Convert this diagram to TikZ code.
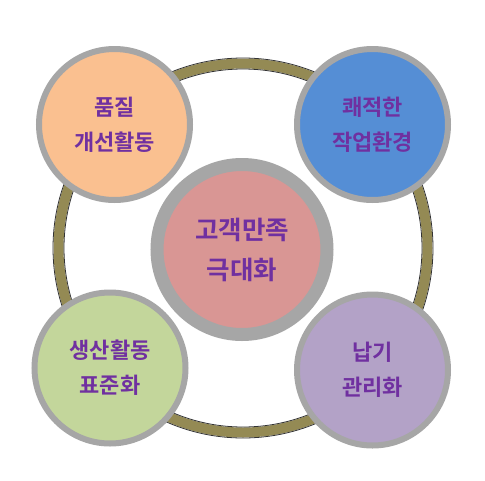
\documentclass[tikz,border=0pt]{standalone}
\usepackage{fontspec}
\newfontfamily\kr{Noto Sans CJK KR}[BoldFont={Noto Sans CJK KR Bold}]
\definecolor{ringol}{HTML}{948A54}
\definecolor{bordgray}{HTML}{A6A6A6}
\definecolor{txtpurple}{HTML}{7030A0}
\definecolor{corange}{HTML}{FAC090}
\definecolor{cblue}{HTML}{558ED5}
\definecolor{cgreen}{HTML}{C3D69B}
\definecolor{cpurple}{HTML}{B3A2C7}
\definecolor{cpink}{HTML}{D99694}
\tikzset{
  small/.style={circle, draw=bordgray, line width=6pt, minimum size=151pt, inner sep=0pt,
    align=center, text=txtpurple, font=\kr\bfseries\fontsize{22}{35}\selectfont},
  big/.style={circle, draw=bordgray, line width=13pt, minimum size=170pt, inner sep=0pt,
    align=center, text=txtpurple, font=\kr\bfseries\fontsize{25.5}{40}\selectfont},
}
\begin{document}
\begin{tikzpicture}[x=1pt,y=-1pt]
\useasboundingbox (0,0) rectangle (485,480);
\fill[white] (0,0) rectangle (485,480);
% ring
\coordinate (rc) at (243,248);
\draw[ringol, line width=10pt] (rc) circle[radius=184.5];
\draw[black!80, line width=0.8pt] (rc) circle[radius=190];
\draw[black!80, line width=0.8pt] (rc) circle[radius=179];
% nodes
\node[big, fill=cpink] (c) at (242,249.5) {고객만족\\극대화};
\node[small, fill=corange] (tl) at (114.5,124.5) {품질\\개선활동};
\node[small, fill=cblue] (tr) at (372.5,124.5) {쾌적한\\작업환경};
\node[small, fill=cgreen] (bl) at (110,368) {생산활동\\표준화};
\node[small, fill=cpurple] (br) at (372.5,370) {납기\\관리화};
\end{tikzpicture}
\end{document}
